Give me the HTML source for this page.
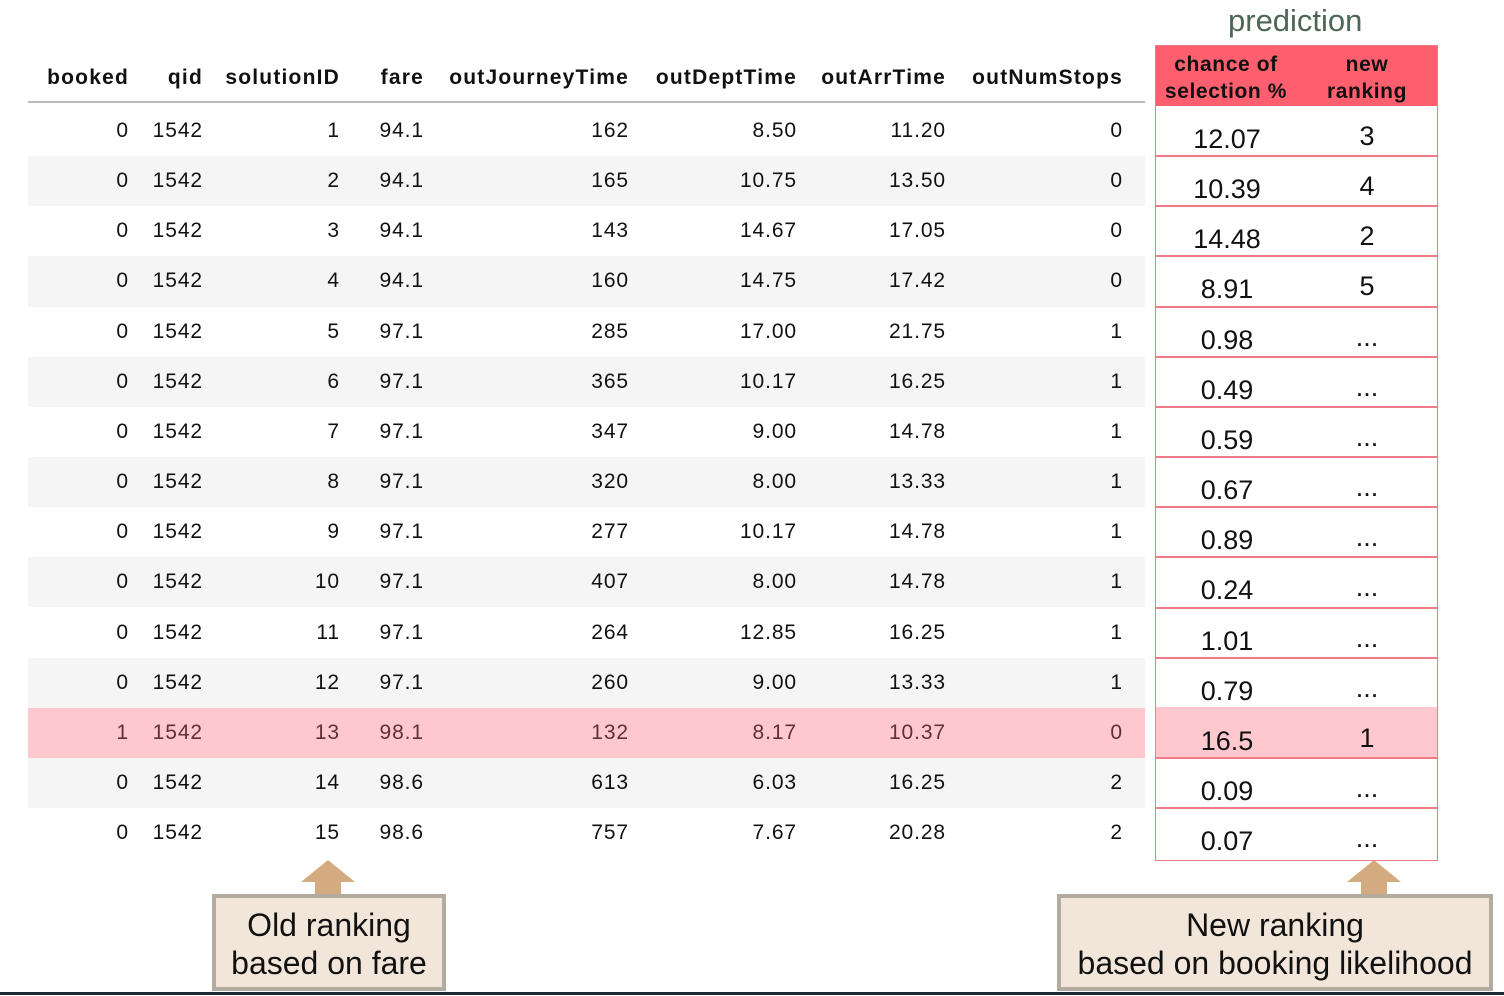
<!DOCTYPE html>
<html><head><meta charset="utf-8">
<style>
body{margin:0;width:1504px;height:996px;background:#fff;position:relative;overflow:hidden;font-family:"Liberation Sans",sans-serif;}
.a{position:absolute;white-space:nowrap;}
.h{font-weight:bold;font-size:21px;color:#111;letter-spacing:1.2px;}
.d{font-size:21px;color:#111;letter-spacing:0.9px;}
.r{font-size:27px;color:#111;text-align:center;}
.box{position:absolute;background:#f2e6da;border:4px solid #b3aaa0;box-sizing:border-box;font-size:32px;color:#111;text-align:center;line-height:38px;padding-top:8px;}
</style></head>
<body>
<div class="a" style="left:1228px;top:3px;font-size:31px;color:#4d6656;">prediction</div>
<div class="a" style="left:1155px;top:45px;width:283px;height:61px;background:#fd5f6e;"></div>
<div class="a h" style="left:1157px;top:51px;width:138px;text-align:center;line-height:27px;letter-spacing:0.6px;">chance of<br>selection %</div>
<div class="a h" style="left:1312px;top:51px;width:110px;text-align:center;line-height:27px;letter-spacing:0.6px;">new<br>ranking</div>
<div class="a" style="left:28px;top:101px;width:1117px;height:2px;background:#bbb;"></div>
<div id="root"></div>
<div class="a" style="left:301px;top:860px;width:0;height:0;border-left:27px solid transparent;border-right:27px solid transparent;border-bottom:22px solid #d4ab80;"></div>
<div class="a" style="left:315px;top:881px;width:26px;height:15px;background:#d4ab80;"></div>
<div class="a" style="left:1347px;top:860px;width:0;height:0;border-left:27px solid transparent;border-right:27px solid transparent;border-bottom:22px solid #d4ab80;"></div>
<div class="a" style="left:1361px;top:881px;width:26px;height:15px;background:#d4ab80;"></div>
<div class="box" style="left:212px;top:894px;width:234px;height:97px;">Old ranking<br>based on fare</div>
<div class="box" style="left:1057px;top:894px;width:436px;height:97px;">New ranking<br>based on booking likelihood</div>
<div class="a" style="left:0;top:992px;width:1504px;height:3px;background:#1a2a33;"></div>
<script>
const headers=["booked","qid","solutionID","fare","outJourneyTime","outDeptTime","outArrTime","outNumStops"];
const booked=[0,0,0,0,0,0,0,0,0,0,0,0,1,0,0];
const qid=[1542,1542,1542,1542,1542,1542,1542,1542,1542,1542,1542,1542,1542,1542,1542];
const solutionID=[1,2,3,4,5,6,7,8,9,10,11,12,13,14,15];
const fare=["94.1","94.1","94.1","94.1","97.1","97.1","97.1","97.1","97.1","97.1","97.1","97.1","98.1","98.6","98.6"];
const journey=[162,165,143,160,285,365,347,320,277,407,264,260,132,613,757];
const dept=["8.50","10.75","14.67","14.75","17.00","10.17","9.00","8.00","10.17","8.00","12.85","9.00","8.17","6.03","7.67"];
const arr=["11.20","13.50","17.05","17.42","21.75","16.25","14.78","13.33","14.78","14.78","16.25","13.33","10.37","16.25","20.28"];
const stops=[0,0,0,0,1,1,1,1,1,1,1,1,0,2,2];
const chance=["12.07","10.39","14.48","8.91","0.98","0.49","0.59","0.67","0.89","0.24","1.01","0.79","16.5","0.09","0.07"];
const newRank=["3","4","2","5","...","...","...","...","...","...","...","...","1","...","..."];
const cols=[booked,qid,solutionID,fare,journey,dept,arr,stops];
const rightEdges=[128,202,339,423,628,796,945,1122];
const root=document.getElementById('root');
function mk(cls,style,text){const e=document.createElement('div');e.className='a '+cls;e.style.cssText=style;if(text!==undefined)e.textContent=text;root.appendChild(e);return e;}
headers.forEach((h,i)=>{
 const e=mk('h',`right:${1504-rightEdges[i]-1}px;top:66px;`,h);
 
 
});
const rowTop=106,rowH=50.15;
for(let r=0;r<booked.length;r++){
 const t=rowTop+r*rowH;const hl=booked[r]===1;
 if(hl||r%2===1){
  const bg=mk('',`left:28px;top:${t}px;width:1117px;height:${rowH}px;background:${hl?'#fec8ce':'#f5f5f5'};`);
  
  
 }
 cols.forEach((c,i)=>{
  const e=mk('d',`right:${1504-rightEdges[i]-1}px;top:${t+13}px;color:${hl?'#5e3038':'#111'};`,String(c[r]));
  
  
 });
 if(hl){const p=mk('',`left:1155px;top:${t-1}px;width:283px;height:${rowH}px;background:#fec8ce;`);
  
  }
 const c1=mk('r',`left:1170px;width:114px;top:${t+18}px;`,chance[r]);
 
 
 const c2=mk('r',`left:1317px;width:100px;top:${t+15}px;`,newRank[r]);
 
 
 if(r<booked.length-1){const l=mk('',`left:1155px;top:${t+rowH-1}px;width:283px;height:2px;background:#f07a86;`);
  
  }
}
const fr=mk('',`left:1155px;top:45px;width:281px;height:814px;border:1px solid #f07a86;`);


</script>
</body></html>
